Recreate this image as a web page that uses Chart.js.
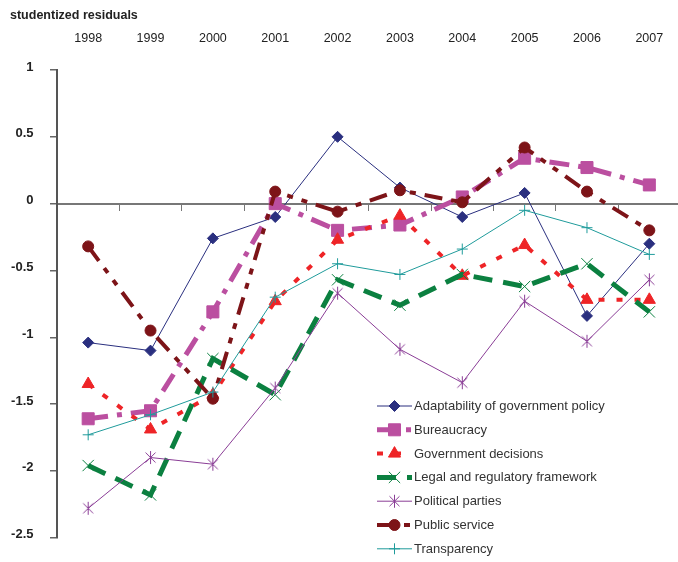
<!DOCTYPE html>
<html>
<head>
<meta charset="utf-8">
<title>studentized residuals</title>
<script src="https://cdn.jsdelivr.net/npm/chart.js@4.4.0/dist/chart.umd.min.js"></script>
<style>
  html, body { margin: 0; padding: 0; background: #fff; overflow: hidden; width: 678px; height: 562px; }
  canvas { display: block; }
</style>
</head>
<body>
<canvas id="chart" width="690" height="562"></canvas>
<script>
// Survey years along the top axis
const years = ['1998', '1999', '2000', '2001', '2002', '2003', '2004', '2005', '2006', '2007'];

// Studentized residuals per indicator
const adaptability        = [-1.04, -1.10, -0.26, -0.10, 0.50, 0.12, -0.10, 0.08, -0.84, -0.30];
const bureaucracy         = [-1.61, -1.55, -0.81, 0.00, -0.20, -0.16, 0.05, 0.34, 0.27, 0.14];
const governmentDecisions = [-1.35, -1.69, -1.43, -0.73, -0.27, -0.09, -0.54, -0.31, -0.72, -0.72];
const legalFramework      = [-1.96, -2.18, -1.16, -1.43, -0.57, -0.76, -0.53, -0.62, -0.45, -0.81];
const politicalParties    = [-2.28, -1.90, -1.95, -1.38, -0.67, -1.09, -1.34, -0.73, -1.03, -0.57];
const publicService       = [-0.32, -0.95, -1.46, 0.09, -0.06, 0.10, 0.01, 0.42, 0.09, -0.20];
const transparency        = [-1.73, -1.58, -1.41, -0.70, -0.45, -0.53, -0.34, -0.05, -0.18, -0.38];

const seriesNames = [
  'Adaptability of government policy',
  'Bureaucracy',
  'Government decisions',
  'Legal and regulatory framework',
  'Political parties',
  'Public service',
  'Transparency'
];

const FONT = '"Liberation Sans", Arial, sans-serif';

// Asterisk marker: vertical bar plus a diagonal cross
function asteriskMarker(color) {
  const c = document.createElement('canvas');
  c.width = 13; c.height = 15;
  const g = c.getContext('2d');
  g.strokeStyle = color;
  g.lineWidth = 1;
  g.beginPath();
  g.moveTo(6.5, 1); g.lineTo(6.5, 14);
  g.moveTo(1.5, 2.5); g.lineTo(11.5, 12.5);
  g.moveTo(11.5, 2.5); g.lineTo(1.5, 12.5);
  g.stroke();
  return c;
}

function series(i, data, color, width, dash, style, radius, filled) {
  return {
    label: seriesNames[i],
    data: data,
    order: -i,
    borderColor: color,
    backgroundColor: color,
    borderWidth: width,
    borderDash: dash,
    borderCapStyle: 'butt',
    tension: 0,
    fill: false,
    pointStyle: style,
    pointRadius: radius,
    pointHoverRadius: radius,
    pointBackgroundColor: filled ? color : 'rgba(0,0,0,0)',
    pointBorderColor: color,
    pointBorderWidth: 1
  };
}

const datasets = [
  series(0, adaptability,        '#2a2f7f', 1, [],                   'rectRot',  5.5, true),
  series(1, bureaucracy,         '#bb4fa0', 5, [20, 9, 5, 9],        'rect',     8.5, true),
  series(2, governmentDecisions, '#ee2427', 4, [6, 12],              'triangle', 7,   true),
  series(3, legalFramework,      '#0b8040', 5, [19, 11],             'crossRot', 8,   false),
  series(4, politicalParties,    '#8a3d96', 1, [],                   asteriskMarker('#8a3d96'), 7, false),
  series(5, publicService,       '#7d1418', 4, [18, 9, 6, 9, 6, 9],  'circle',   5.5, true),
  series(6, transparency,        '#1f9b9b', 1, [],                   'cross',    5.5, false)
];

// Legend drawn inside the plot area, lower right
const insideLegend = {
  id: 'insideLegend',
  afterDatasetsDraw(chart) {
    const ctx = chart.ctx;
    const x0 = 377, x1 = 412, xm = 394.5, xt = 414;
    const top = 406, step = 23.8;
    chart.data.datasets.forEach((ds, i) => {
      const y = top + i * step;
      ctx.save();
      ctx.strokeStyle = ds.borderColor;
      ctx.lineWidth = ds.borderWidth;
      ctx.setLineDash(ds.borderDash || []);
      ctx.lineCap = 'butt';
      ctx.beginPath();
      ctx.moveTo(x0, y);
      ctx.lineTo(x1, y);
      ctx.stroke();
      ctx.setLineDash([]);
      ctx.fillStyle = ds.pointBackgroundColor;
      ctx.strokeStyle = ds.pointBorderColor;
      ctx.lineWidth = ds.pointBorderWidth;
      Chart.helpers.drawPoint(ctx, {
        pointStyle: ds.pointStyle,
        rotation: 0,
        radius: ds.pointRadius,
        borderWidth: ds.pointBorderWidth
      }, xm, y);
      ctx.fillStyle = '#333';
      ctx.font = '13px ' + FONT;
      ctx.textAlign = 'left';
      ctx.textBaseline = 'middle';
      ctx.fillText(ds.label, xt, y + 0.5);
      ctx.restore();
    });
  }
};

new Chart(document.getElementById('chart'), {
  type: 'line',
  data: { labels: years, datasets: datasets },
  options: {
    responsive: false,
    animation: false,
    layout: { padding: { left: 10, right: 6, top: 0, bottom: 20.5 } },
    plugins: {
      legend: { display: false },
      tooltip: { enabled: false },
      title: {
        display: true,
        text: 'studentized residuals',
        align: 'start',
        color: '#222',
        font: { family: FONT, size: 12.5, weight: 'bold', lineHeight: 1.2 },
        padding: { top: 8, bottom: 0 }
      }
    },
    scales: {
      // zero line with tick marks between the years
      x: {
        type: 'category',
        position: { y: 0 },
        offset: true,
        grid: { offset: true, drawOnChartArea: false, drawTicks: true, tickLength: 6, color: '#777', lineWidth: 1 },
        border: { display: true, color: '#777', width: 2 },
        ticks: { display: false }
      },
      // year labels above the plot
      top: {
        type: 'category',
        position: 'top',
        offset: true,
        grid: { display: false, drawTicks: false },
        border: { display: false },
        ticks: { color: '#222', font: { family: FONT, size: 12.5, lineHeight: 1.2 }, padding: 23.5, maxRotation: 0, autoSkip: false },
        afterFit(scale) { scale.height = 47; }
      },
      y: {
        position: 'left',
        min: -2.5,
        max: 1,
        ticks: {
          stepSize: 0.5,
          color: '#222',
          padding: 16.5,
          labelOffset: -3,
          font: { family: FONT, size: 13, weight: 'bold' },
          callback: (v) => String(Math.round(v * 10) / 10)
        },
        grid: { drawOnChartArea: false, drawTicks: true, tickLength: 7, color: '#666', lineWidth: 1.5 },
        border: { display: true, color: '#555', width: 2 },
        afterFit(scale) { scale.width = 47; }
      }
    }
  },
  plugins: [insideLegend]
});
</script>
</body>
</html>
